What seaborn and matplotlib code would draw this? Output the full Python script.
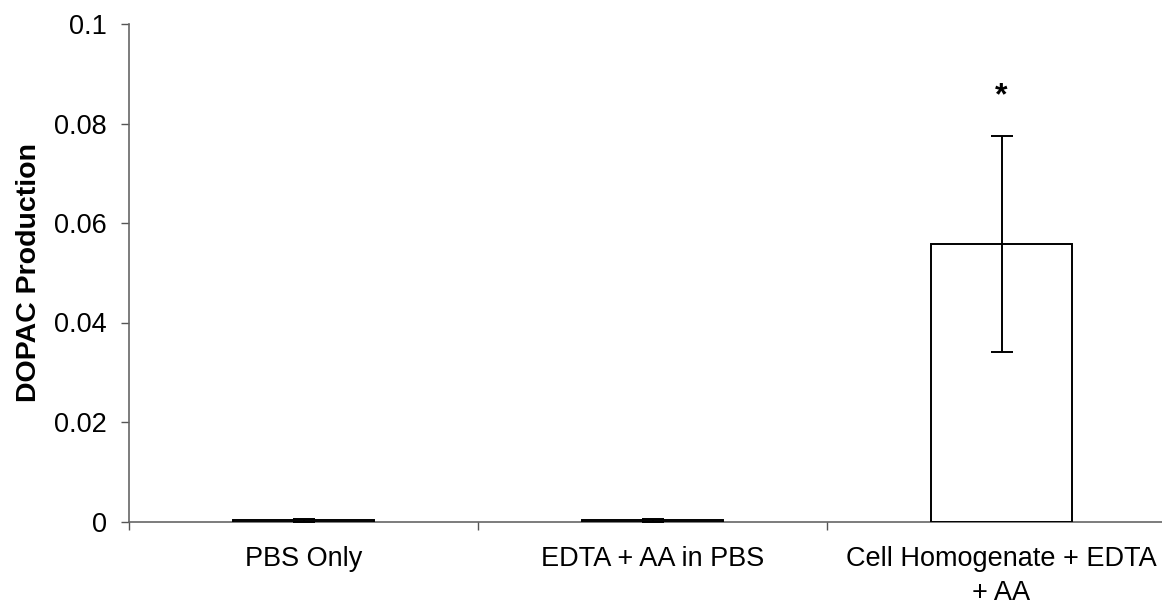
import matplotlib
matplotlib.use("Agg")
import matplotlib.pyplot as plt
import seaborn as sns
import pandas as pd

categories = ["PBS Only", "EDTA + AA in PBS", "Cell Homogenate + EDTA\n+ AA"]
dopac = [0.0003, 0.0003, 0.0558]
errors = [0.0003, 0.0003, 0.0217]
yticks = [0, 0.02, 0.04, 0.06, 0.08, 0.1]
ytick_labels = ["0", "0.02", "0.04", "0.06", "0.08", "0.1"]

sns.set_style("white")
plt.rcParams["font.family"] = ["Liberation Sans", "DejaVu Sans"]
plt.rcParams["text.color"] = "black"
plt.rcParams["xtick.color"] = "black"
plt.rcParams["ytick.color"] = "black"
plt.rcParams["axes.labelcolor"] = "black"

df = pd.DataFrame({"group": categories, "value": dopac})

fig = plt.figure(figsize=(11.62, 6.05), dpi=100)
ax = fig.add_axes([129 / 1162, 1 - 521.5 / 605, (1176 - 129) / 1162, (521.5 - 24) / 605])

sns.barplot(data=df, x="group", y="value", ax=ax, color="white",
            edgecolor="black", linewidth=1.4, width=0.405, errorbar=None)
ax.errorbar(range(len(categories)), dopac, yerr=errors, fmt="none",
            ecolor="black", elinewidth=1.4, capsize=8, capthick=1.4)

ax.text(2, 0.0855, "*", ha="center", va="center", fontsize=23, fontweight="bold")

ax.set_xlim(-0.5, 2.5)
ax.set_ylim(0, 0.1)
ax.set_yticks(yticks)
ax.set_yticklabels(ytick_labels, fontsize=19.5)
ax.set_xticks([-0.5, 0.5, 1.5, 2.5], minor=True)
ax.set_xticks(range(len(categories)))
ax.set_xticklabels(categories, fontsize=19.5)
ax.tick_params(axis="x", which="major", bottom=False, length=0, pad=18)
ax.tick_params(axis="x", which="minor", bottom=True, length=6, width=1,
               color="#555555", direction="out")
ax.tick_params(axis="y", left=True, length=6, width=1, color="#555555",
               direction="out", pad=10)
for lbl in ax.get_xticklabels():
    lbl.set_linespacing(1.38)

ax.set_xlabel("")
ax.set_ylabel("DOPAC Production", fontsize=20.5, fontweight="bold", labelpad=9)

for side in ["top", "right"]:
    ax.spines[side].set_visible(False)
for side in ["left", "bottom"]:
    ax.spines[side].set_color("#666666")
    ax.spines[side].set_linewidth(1.2)
ax.spines["bottom"].set_zorder(0)

fig.savefig("out.png", dpi=100)
